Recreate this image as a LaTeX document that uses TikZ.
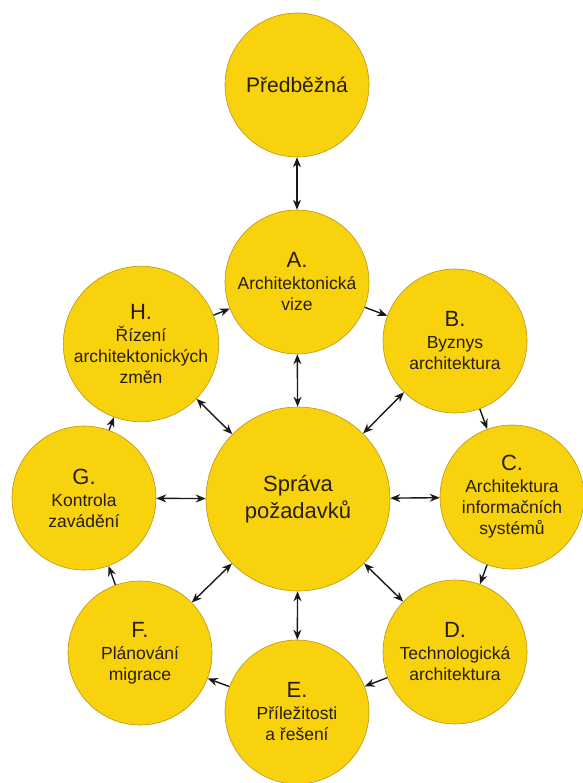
\documentclass[tikz,border=0pt]{standalone}
\usepackage{fontspec}
\setmainfont{Liberation Sans}
\usetikzlibrary{arrows.meta}
\definecolor{gfill}{RGB}{248,210,12}
\definecolor{grim}{RGB}{185,150,20}
\definecolor{txt}{RGB}{40,30,5}
\tikzset{
  ball/.style={circle, minimum size=144pt, inner sep=0pt, draw=grim, line width=0.6pt,
    fill=gfill, text=txt, align=center,
    font=\fontsize{17.5}{21}\selectfont},
  bigball/.style={ball, minimum size=184pt, font=\fontsize{22}{27}\selectfont},
  one/.style={-{Stealth[length=10pt,width=8pt]}, line width=1.4pt, black!90},
  two/.style={{Stealth[length=10pt,width=8pt]}-{Stealth[length=10pt,width=8pt]}, line width=1.4pt, black!90},
}
\newcommand\ltr[1]{{\fontsize{22}{22}\selectfont #1}\\[1pt]}
\begin{document}
\begin{tikzpicture}[x=1pt,y=-1pt]
\path[use as bounding box] (0,0) rectangle (582,783);
\node[ball, font=\fontsize{21}{25}\selectfont] (P) at (297,85) {Předběžná};
\node[ball] (A) at (297,282) {\ltr{A.}Architektonická\\vize};
\node[ball] (B) at (455,341) {\ltr{B.}Byznys\\architektura};
\node[ball] (C) at (512,497) {\ltr{C.}Architektura\\informačních\\systémů};
\node[ball] (D) at (455,652) {\ltr{D.}Technologická\\architektura};
\node[ball] (E) at (297,712) {\ltr{E.}Příležitosti\\a řešení};
\node[ball] (F) at (140,653) {\ltr{F.}Plánování\\migrace};
\node[ball] (G) at (84,498) {\ltr{G.}Kontrola\\zavádění};
\node[ball] (H) at (141,344) {\ltr{H.}Řízení\\architektonických\\změn};
\node[bigball] (S) at (298,499) {Správa\\požadavků};
\draw[two] (P) -- (A);
\draw[one] (A) -- (B);
\draw[one] (B) -- (C);
\draw[one] (C) -- (D);
\draw[one] (D) -- (E);
\draw[one] (E) -- (F);
\draw[one] (F) -- (G);
\draw[one] (G) -- (H);
\draw[one] (H) -- (A);
\foreach \n in {A,B,C,D,E,F,G,H} \draw[two] (S) -- (\n);
\end{tikzpicture}
\end{document}
